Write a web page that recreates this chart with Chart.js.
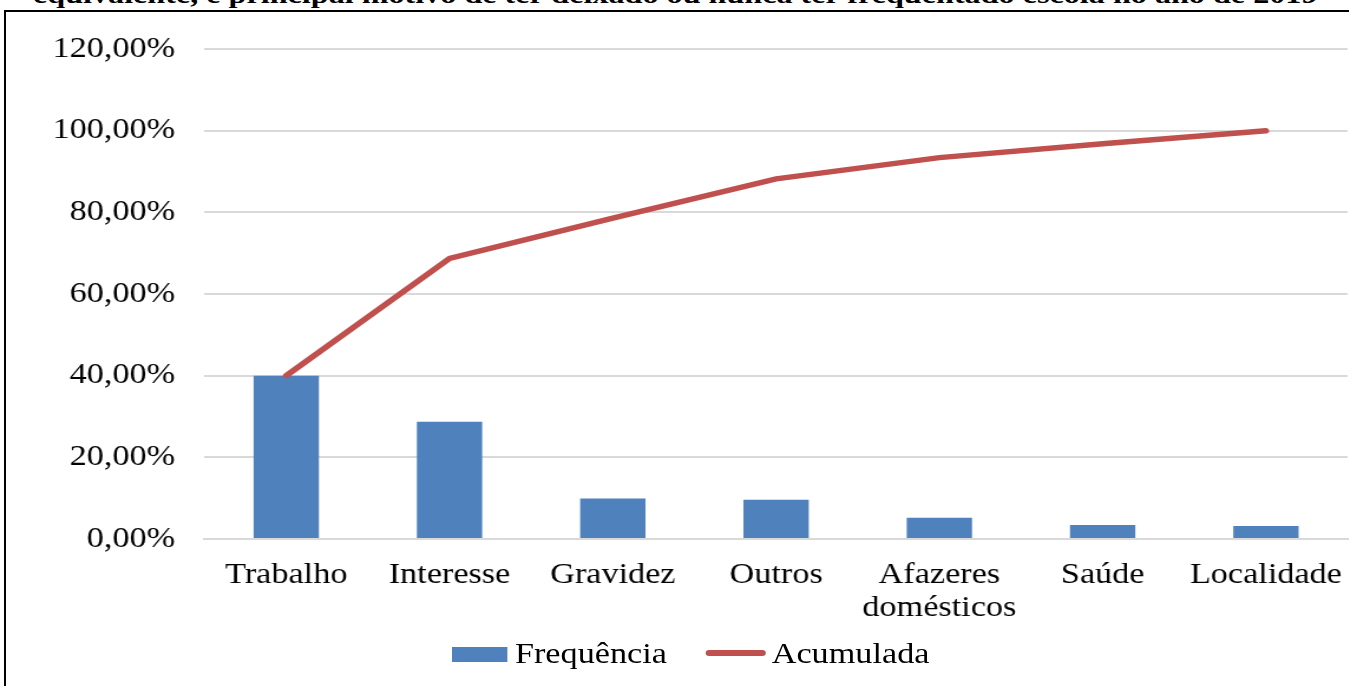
<!DOCTYPE html>
<html>
<head>
<meta charset="utf-8">
<script src="https://cdn.jsdelivr.net/npm/chart.js@4.4.0/dist/chart.umd.min.js"></script>
<style>
  html, body { margin: 0; padding: 0; background: #fff; overflow: hidden; }
  body { width: 1349px; height: 686px; position: relative; }
  #titulo {
    position: absolute; left: 33px; top: -18px;
    font: bold 26px "Liberation Serif", "Times New Roman", serif;
    line-height: 26px; white-space: nowrap; color: #000;
    transform-origin: left top;
  }
  #moldura {
    position: absolute; left: 4px; top: 10px; width: 1400px; height: 700px;
    border: 2px solid #000;
  }
  #caixa {
    position: absolute; left: 0; top: 0; width: 1143px; height: 686px;
    transform: scaleX(1.18); transform-origin: left top;
  }
  #legenda div { position: absolute; }
  #legenda .texto {
    font: 29px "Liberation Serif", "Times New Roman", serif;
    line-height: 29px; white-space: nowrap; color: #000; top: 639px;
  }
</style>
</head>
<body>
<div id="titulo">equivalente, e principal motivo de ter deixado ou nunca ter frequentado escola no ano de 2019</div>
<div id="moldura"></div>
<div id="caixa">
  <canvas id="grafico" width="1143" height="686"></canvas>
  <div id="legenda"></div>
</div>
<script>
const categorias = ['Trabalho', 'Interesse', 'Gravidez', 'Outros', ['Afazeres', 'domésticos'], 'Saúde', 'Localidade'];
const frequencia = [40.0, 28.7, 9.9, 9.6, 5.2, 3.4, 3.2];
const acumulada = [40.0, 68.7, 78.6, 88.2, 93.4, 96.8, 100.0];
const ticksY = [0, 20, 40, 60, 80, 100, 120];

const COR_BARRA = '#4F81BD';
const COR_LINHA = '#C0504D';

// ajusta o título cortado à largura original
const titulo = document.getElementById('titulo');
titulo.style.transform = `scaleX(${1285 / titulo.offsetWidth})`;

const fonte = { family: '"Liberation Serif", "Times New Roman", serif', size: 29, lineHeight: '33.5px' };

function formatarPct(v) {
    return v.toFixed(2).replace('.', ',') + '%';
}

const grafico = new Chart(document.getElementById('grafico'), {
    data: {
        labels: categorias,
        datasets: [
            {
                type: 'bar',
                label: 'Frequência',
                data: frequencia,
                backgroundColor: COR_BARRA,
                borderWidth: 0,
                barPercentage: 0.4,
                categoryPercentage: 1,
                order: 1
            },
            {
                type: 'line',
                label: 'Acumulada',
                data: acumulada,
                borderColor: COR_LINHA,
                backgroundColor: COR_LINHA,
                borderWidth: 5.5,
                borderCapStyle: 'round',
                pointRadius: 0,
                tension: 0,
                order: 0
            }
        ]
    },
    options: {
        responsive: false,
        animation: false,
        layout: { padding: { left: 44, top: 49, right: 1, bottom: 0 } },
        scales: {
            x: {
                grid: { display: false, drawTicks: false },
                border: { color: '#D9D9D9', width: 2 },
                ticks: { color: '#000', font: fonte, padding: 19.5, maxRotation: 0, autoSkip: false },
                afterFit: (scale) => {
                    scale.height = 147;
                    scale.paddingLeft = 0;
                    scale.paddingRight = 0;
                }
            },
            y: {
                min: 0,
                max: 120,
                afterBuildTicks: (scale) => { scale.ticks = ticksY.map(v => ({ value: v })); },
                grid: { color: '#D9D9D9', lineWidth: 2, drawTicks: false },
                border: { display: false },
                ticks: { color: '#000', font: fonte, padding: 25, callback: (v) => formatarPct(v) },
                afterFit: (scale) => { scale.width = 129.4; }
            }
        },
        plugins: {
            title: { display: false },
            tooltip: { enabled: false },
            legend: { display: false }
        }
    }
});

// legenda em HTML, nas coordenadas do canvas (antes do scaleX)
const legenda = document.getElementById('legenda');
const itensLegenda = [
    { simbolo: { left: 382.8, top: 646.7, width: 47.7, height: 15.3, background: COR_BARRA }, textoLeft: 436.4 },
    { simbolo: { left: 597.5, top: 650.3, width: 51.7, height: 6, background: COR_LINHA, borderRadius: 3 }, textoLeft: 654 }
];
grafico.data.datasets.forEach((ds, i) => {
    const item = itensLegenda[i];
    const simbolo = document.createElement('div');
    const s = item.simbolo;
    simbolo.style.cssText = `left:${s.left}px;top:${s.top}px;width:${s.width}px;height:${s.height}px;` +
        `background:${s.background};border-radius:${s.borderRadius || 0}px`;
    const texto = document.createElement('div');
    texto.className = 'texto';
    texto.style.left = item.textoLeft + 'px';
    texto.textContent = ds.label;
    legenda.appendChild(simbolo);
    legenda.appendChild(texto);
});
</script>
</body>
</html>
